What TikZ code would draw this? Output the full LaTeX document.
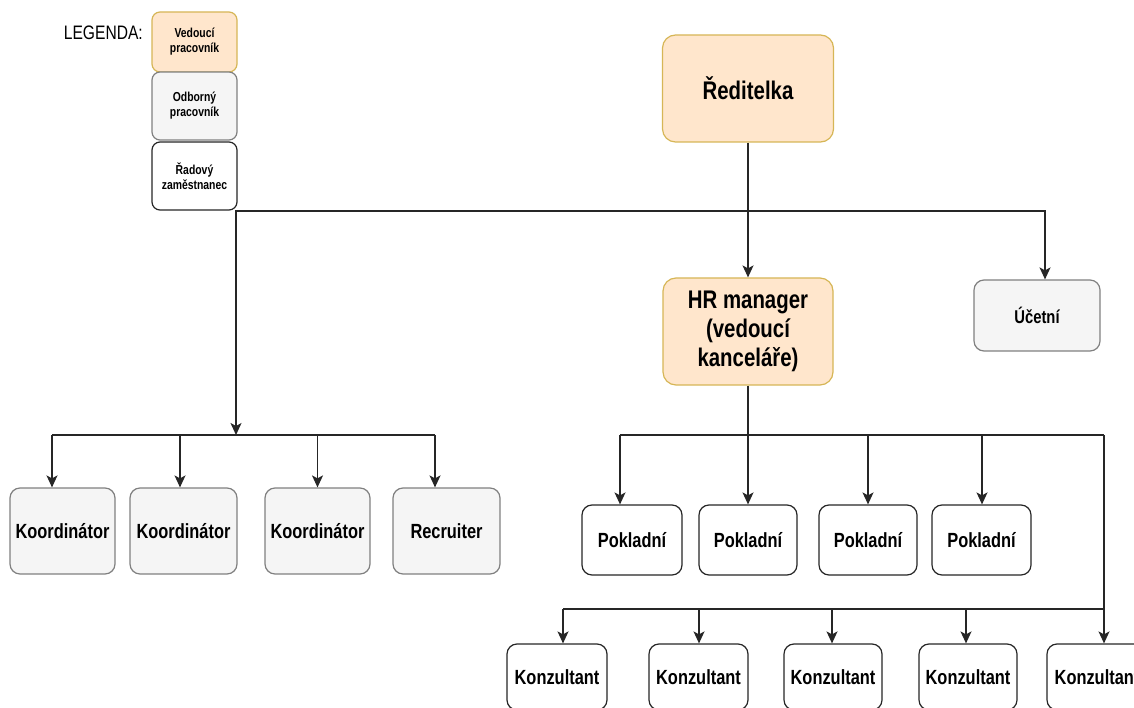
\documentclass[tikz,border=0pt]{standalone}
\usepackage{fontspec}
\setmainfont[FakeStretch=0.8]{Liberation Sans}
\usepackage{xcolor}
\usetikzlibrary{arrows.meta}
\definecolor{leadfill}{HTML}{FFE6CC}
\definecolor{leaddraw}{HTML}{D6B656}
\definecolor{expertfill}{HTML}{F5F5F5}
\definecolor{expertdraw}{HTML}{808080}

\tikzset{
  box/.style={draw, rounded corners=10pt, line width=1.2pt, align=center, inner sep=0pt,
    font=\bfseries\fontsize{20.5}{23.5}\selectfont},
  lead/.style={box, fill=leadfill, draw=leaddraw},
  expert/.style={box, fill=expertfill, draw=expertdraw},
  regular/.style={box, fill=white, draw=black!85},
  legendbox/.style={minimum width=85pt, rounded corners=8pt, font=\bfseries\fontsize{13}{15}\selectfont},
  bigtext/.style={rounded corners=13pt, font=\bfseries\fontsize{25.5}{29}\selectfont},
  wire/.style={line width=1.4pt, black!85},
}

\begin{document}
\begin{tikzpicture}[x=1pt, y=-1pt, >={Stealth[length=12pt, width=11pt, inset=3pt]}]
    \useasboundingbox (0,0) rectangle (1134,708);
    \clip (0,0) rectangle (1134,708);

    % legend
    \node [anchor=east, inner sep=0pt, font=\fontsize{19.5}{22}\selectfont] (legtitle) at (143,33) {LEGENDA:};
    \node [lead, legendbox, minimum height=60pt] (leg1) at (194.5,42) {Vedoucí\\pracovník};
    \node [expert, legendbox, minimum height=68pt] (leg2) at (194.5,106) {Odborný\\pracovník};
    \node [regular, legendbox, minimum height=68pt] (leg3) at (194.5,176) {Řadový\\zaměstnanec};

    % management
    \node [lead, bigtext, minimum width=171pt, minimum height=107pt] (red) at (748,88.5) {Ředitelka};
    \node [lead, bigtext, minimum width=170pt, minimum height=107pt] (hr) at (748,331.5) {HR manager\\(vedoucí\\kanceláře)};
    \node [expert, minimum width=126pt, minimum height=71pt, font=\bfseries\fontsize{18.5}{21}\selectfont] (uc) at (1037,315.5) {Účetní};

    % left branch
    \node [expert, minimum width=105pt, minimum height=86pt] (k1) at (62.5,531) {Koordinátor};
    \node [expert, minimum width=107pt, minimum height=86pt] (k2) at (183.5,531) {Koordinátor};
    \node [expert, minimum width=105pt, minimum height=86pt] (k3) at (317.5,531) {Koordinátor};
    \node [expert, minimum width=107pt, minimum height=86pt] (k4) at (446.5,531) {Recruiter};

    % cashiers
    \node [regular, minimum width=100pt, minimum height=70pt] (p1) at (632,540) {Pokladní};
    \node [regular, minimum width=98pt, minimum height=70pt] (p2) at (748,540) {Pokladní};
    \node [regular, minimum width=98pt, minimum height=70pt] (p3) at (868,540) {Pokladní};
    \node [regular, minimum width=99pt, minimum height=70pt] (p4) at (981.5,540) {Pokladní};

    % consultants
    \node [regular, minimum width=100pt, minimum height=66pt] (c1) at (557,677) {Konzultant};
    \node [regular, minimum width=99pt, minimum height=66pt] (c2) at (698.5,677) {Konzultant};
    \node [regular, minimum width=98pt, minimum height=66pt] (c3) at (833,677) {Konzultant};
    \node [regular, minimum width=98pt, minimum height=66pt] (c4) at (968,677) {Konzultant};
    \node [regular, minimum width=100pt, minimum height=66pt] (c5) at (1097,677) {Konzultant};

    \coordinate (hub) at (748,211);
    \coordinate (kbus) at (236,435);
    \coordinate (pbus) at (748,435);
    \coordinate (pend) at (1104,435);
    \coordinate (cbus) at (1104,609);

    % connectors
    \draw [wire, ->] (red) -- (hr);
    \draw [wire, ->] (hub) -| (kbus);
    \draw [wire, ->] (hub) -| ([xshift=8pt]uc.north);

    \draw [wire] ([xshift=-10.5pt]k1.north |- kbus) -- ([xshift=-11.5pt]k4.north |- kbus);
    \foreach \n/\dx in {k1/-10.5, k2/-3.5, k3/0, k4/-11.5}
        \draw [wire, ->] ([xshift=\dx pt]\n.north |- kbus) -- ([xshift=\dx pt]\n.north);

    \draw [wire, ->] (hr) -- (p2);
    \draw [wire] ([xshift=-12pt]p1.north |- pbus) -- (pend);
    \foreach \n/\dx in {p1/-12, p3/0, p4/0.5}
        \draw [wire, ->] ([xshift=\dx pt]\n.north |- pbus) -- ([xshift=\dx pt]\n.north);

    \draw [wire, ->] (pend) -- ([xshift=7pt]c5.north);
    \draw [wire] ([xshift=6pt]c1.north |- cbus) -- (cbus);
    \foreach \n/\dx in {c1/6, c2/0.5, c3/-1, c4/-2}
        \draw [wire, ->] ([xshift=\dx pt]\n.north |- cbus) -- ([xshift=\dx pt]\n.north);
\end{tikzpicture}
\end{document}
